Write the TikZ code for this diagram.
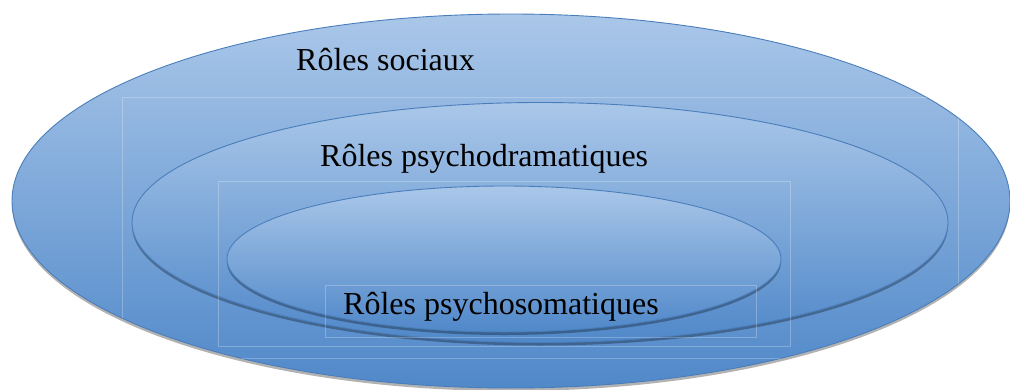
\documentclass[tikz,border=0pt]{standalone}
\usepackage{fontspec}
\setmainfont{Liberation Serif}
\usetikzlibrary{shapes.geometric,shadows}
\definecolor{topc}{RGB}{170,199,233}
\definecolor{botc}{RGB}{80,136,201}
\definecolor{edgec}{RGB}{74,126,187}
\tikzset{
  ring/.style={ellipse, draw=edgec, line width=0.9pt, top color=topc, bottom color=botc, inner sep=0pt,
    drop shadow={shadow xshift=0pt, shadow yshift=-3pt, opacity=0.3, fill=black}},
  lbl/.style={font=\fontsize{32}{38}\selectfont, inner sep=0pt, anchor=base west},
  tbox/.style={draw=white, draw opacity=0.25, line width=0.6pt}
}
\begin{document}
\begin{tikzpicture}[x=1pt,y=-1pt]
\useasboundingbox (0,0) rectangle (1010,389);
\clip (0,0) rectangle (1010,389);
\node[ring, minimum width=998pt, minimum height=374pt] (outer) at (511,201) {};
\node[ring, minimum width=816pt, minimum height=240pt] (middle) at (540,222.5) {};
\node[ring, minimum width=554pt, minimum height=146pt] (inner) at (504,259) {};
\begin{scope}
  \clip (outer.center) ellipse [x radius=499, y radius=187];
  \draw[tbox] (122,97) rectangle (958,358);
  \draw[tbox] (218,181) rectangle (790,346);
  \draw[tbox] (325,285) rectangle (756,337);
\end{scope}
\node[lbl] (t1) at (296,70) {Rôles sociaux};
\node[lbl] (t2) at (320,166) {Rôles psychodramatiques};
\node[lbl] (t3) at (343,314) {Rôles psychosomatiques};
\end{tikzpicture}
\end{document}
